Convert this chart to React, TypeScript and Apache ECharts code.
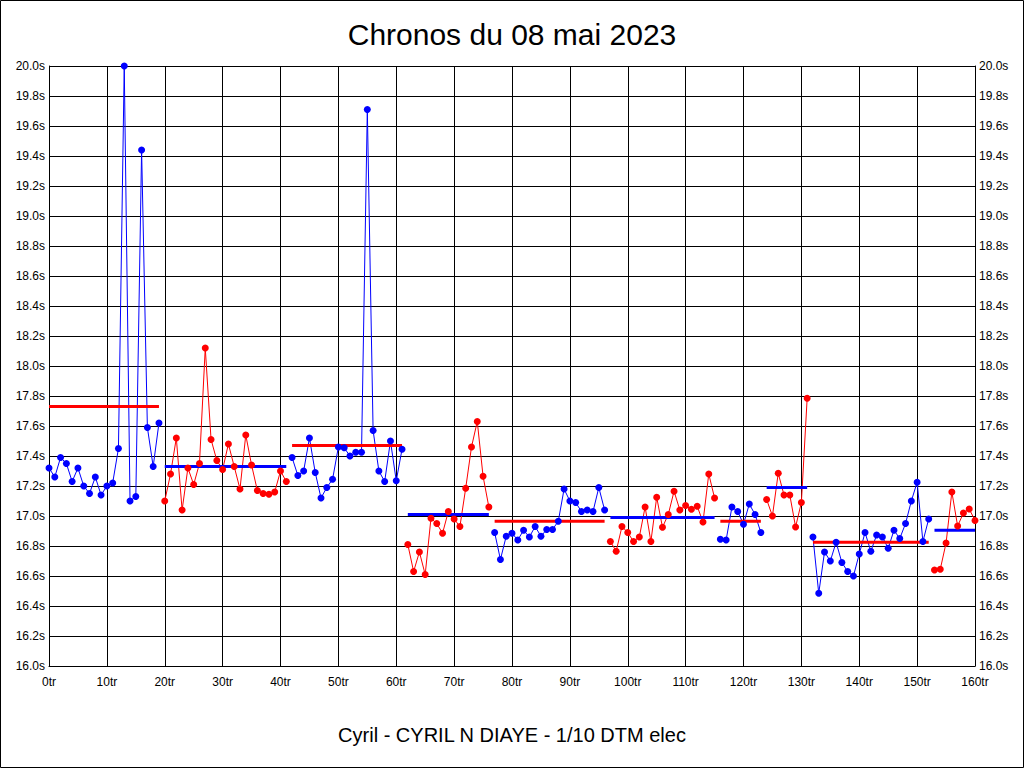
import React, { useEffect, useRef } from "react";
import * as echarts from "echarts";

const title = "Chronos du 08 mai 2023";
const subtitle = "Cyril - CYRIL N DIAYE - 1/10 DTM elec";

// lap times, lap index = array index (0..160)
const lapTimes: number[] = [
  17.32, 17.26, 17.39, 17.35, 17.23, 17.32, 17.2, 17.15, 17.26, 17.14,
  17.2, 17.22, 17.45, 20.0, 17.1, 17.13, 19.44, 17.59, 17.33, 17.62,
  17.1, 17.28, 17.52, 17.04, 17.32, 17.21, 17.35, 18.12, 17.51, 17.37,
  17.31, 17.48, 17.33, 17.18, 17.54, 17.34, 17.17, 17.15, 17.145, 17.16,
  17.3, 17.23, 17.39, 17.27, 17.3, 17.52, 17.29, 17.12, 17.19, 17.245,
  17.46, 17.455, 17.4, 17.425, 17.425, 19.71, 17.57, 17.3, 17.23, 17.5,
  17.235, 17.445, 16.81, 16.63, 16.76, 16.61, 16.985, 16.95, 16.885, 17.03,
  16.98, 16.93, 17.185, 17.46, 17.63, 17.265, 17.06, 16.89, 16.71, 16.865,
  16.885, 16.84, 16.905, 16.86, 16.93, 16.865, 16.91, 16.91, 16.965, 17.18,
  17.1, 17.09, 17.03, 17.04, 17.03, 17.19, 17.04, 16.83, 16.765, 16.93,
  16.89, 16.83, 16.86, 17.06, 16.83, 17.125, 16.925, 17.01, 17.165, 17.04,
  17.07, 17.045, 17.065, 16.96, 17.28, 17.12, 16.845, 16.84, 17.06, 17.03,
  16.945, 17.08, 17.01, 16.89, 17.11, 17.0, 17.285, 17.14, 17.14, 16.927,
  17.09, 17.785, 16.86, 16.485, 16.76, 16.7, 16.825, 16.69, 16.63, 16.6,
  16.747, 16.89, 16.765, 16.873, 16.86, 16.785, 16.905, 16.85, 16.95, 17.1,
  17.225, 16.83, 16.98, 16.64, 16.645, 16.82, 17.16, 16.933, 17.02, 17.047,
  16.97,
];

// stints: first and last lap of each
const stintStart: number[] = [0, 20, 42, 62, 77, 97, 116, 124, 132, 153];
const stintEnd: number[] = [19, 41, 61, 76, 96, 115, 123, 131, 152, 160];
const stintColor: string[] = ["#0000ff", "#ff0000", "#0000ff", "#ff0000", "#0000ff", "#ff0000", "#0000ff", "#ff0000", "#0000ff", "#ff0000"];
// average line of each stint
const stintMean: number[] = [17.73, 17.33, 17.47, 17.01, 16.965, 16.99, 16.965, 17.19, 16.825, 16.905];
const meanColor: string[] = ["#ff0000", "#0000ff", "#ff0000", "#0000ff", "#ff0000", "#0000ff", "#ff0000", "#0000ff", "#ff0000", "#0000ff"];

const FONT = "'Liberation Sans', Arial, sans-serif";

export default function App() {
  const ref = useRef<HTMLDivElement>(null);
  useEffect(() => {
    document.body.style.margin = "0";
    const chart = echarts.init(ref.current!, undefined, { renderer: "svg" });
    const series: any[] = [];
    stintStart.forEach((s, i) => {
      const data: number[][] = [];
      for (let k = s; k <= stintEnd[i]; k++) data.push([k, lapTimes[k]]);
      series.push({
        type: "line",
        data,
        showSymbol: false,
        symbol: "none",
        lineStyle: { color: stintColor[i], width: 1 },
        z: 2,
        silent: true,
      });
      series.push({
        type: "scatter",
        data,
        symbol: "circle",
        symbolSize: 7,
        itemStyle: { color: stintColor[i], opacity: 1 },
        z: 4,
        silent: true,
      });
      series.push({
        type: "line",
        data: [
          [s, stintMean[i]],
          [stintEnd[i], stintMean[i]],
        ],
        symbol: "none",
        lineStyle: { color: meanColor[i], width: 3 },
        z: 3,
        silent: true,
      });
    });
    const yLabel = (v: number) => v.toFixed(1) + "s";
    const yBase = {
      type: "value",
      min: 16,
      max: 20,
      interval: 0.2,
      axisLine: { show: true, lineStyle: { color: "#000", width: 1 } },
      axisTick: { show: false },
      axisLabel: { formatter: yLabel, color: "#000", fontSize: 12, fontFamily: FONT, margin: 4 },
    };
    chart.setOption({
      animation: false,
      backgroundColor: "#fff",
      title: [
        {
          text: title,
          left: "center",
          top: 14,
          textStyle: { fontSize: 30, fontWeight: "normal", color: "#000", fontFamily: FONT },
        },
        {
          text: subtitle,
          left: "center",
          top: 720,
          textStyle: { fontSize: 20, fontWeight: "normal", color: "#000", fontFamily: FONT },
        },
      ],
      grid: { left: 49, right: 49, top: 66, bottom: 102, containLabel: false },
      xAxis: {
        type: "value",
        min: 0,
        max: 160,
        interval: 10,
        axisLine: { show: true, onZero: false, lineStyle: { color: "#000", width: 1 } },
        axisTick: { show: false },
        splitLine: { show: true, lineStyle: { color: "#000", width: 1 } },
        axisLabel: { formatter: (v: number) => v + "tr", color: "#000", fontSize: 12, fontFamily: FONT, margin: 10 },
      },
      yAxis: [
        { ...yBase, position: "left", splitLine: { show: true, lineStyle: { color: "#000", width: 1 } } },
        { ...yBase, position: "right", splitLine: { show: false } },
      ],
      graphic: [
        {
          type: "rect",
          shape: { x: 0.5, y: 0.5, width: 1023, height: 767 },
          style: { fill: "none", stroke: "#000", lineWidth: 1 },
          silent: true,
        },
      ],
      series,
    });
    return () => chart.dispose();
  }, []);
  return (
    <div
      ref={ref}
      style={{ position: "absolute", left: 0, top: 0, width: 1024, height: 768 }}
    />
  );
}
